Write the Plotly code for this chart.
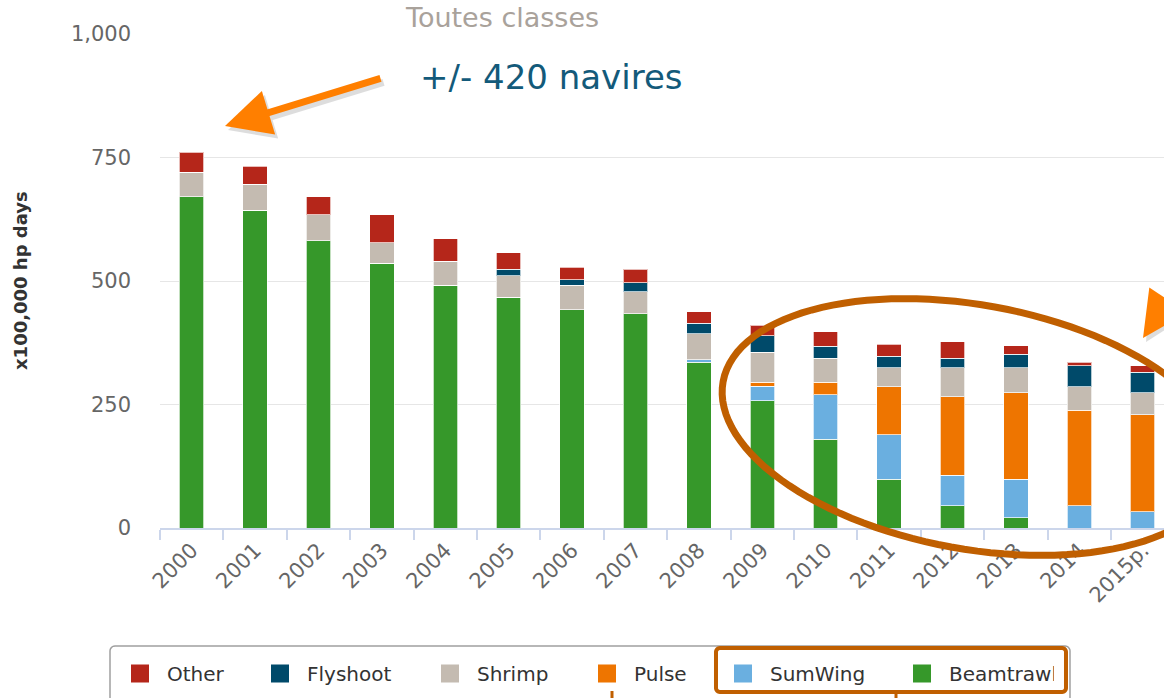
import math
import plotly.graph_objects as go

# ---- data (x100,000 hp days) ----
years = ["2000", "2001", "2002", "2003", "2004", "2005", "2006", "2007",
         "2008", "2009", "2010", "2011", "2012", "2013", "2014", "2015p."]
beamtrawl = [671, 643, 581, 536, 491, 467, 442, 434, 336, 258, 180, 99, 45, 21, 0, 0]
sumwing = [0, 0, 0, 0, 0, 0, 0, 0, 5, 29, 90, 90, 62, 78, 45, 33]
pulse = [0, 0, 0, 0, 0, 0, 0, 0, 0, 8, 25, 97, 159, 175, 193, 196]
shrimp = [49, 53, 53, 41, 49, 44, 49, 44, 52, 61, 49, 38, 58, 50, 48, 45]
flyshoot = [0, 0, 0, 0, 0, 13, 12, 18, 21, 33, 24, 24, 20, 28, 42, 41]
other = [41, 36, 37, 57, 46, 33, 25, 28, 24, 21, 29, 24, 33, 17, 8, 13]

series = [
    ("Beamtrawl", beamtrawl, "#36982a"),
    ("SumWing", sumwing, "#6aafe0"),
    ("Pulse", pulse, "#ee7500"),
    ("Shrimp", shrimp, "#c4bbb1"),
    ("Flyshoot", flyshoot, "#004a6a"),
    ("Other", other, "#b5261a"),
]
legend_widths = {"Other": 81, "Flyshoot": 111, "Shrimp": 98, "Pulse": 77,
                 "SumWing": 120, "Beamtrawl": 100}

W, H = 1164, 698
L, R, T, B = 160, 0, 34, 170
PW, PH = W - L - R, H - T - B


def P(px, py):
    """pixel -> paper coordinates"""
    return (px - L) / PW, (H - B - py) / PH


def rounded_rect(x0, y0, x1, y1, r):
    """rounded rectangle path (pixel input) in paper coordinates"""
    pts = []
    corners = [(x1 - r, y0 + r, -90), (x1 - r, y1 - r, 0), (x0 + r, y1 - r, 90), (x0 + r, y0 + r, 180)]
    for ccx, ccy, start in corners:
        for k in range(7):
            ang = math.radians(start + 15 * k)
            pts.append(P(ccx + r * math.cos(ang), ccy + r * math.sin(ang)))
    return "M " + " L ".join(f"{x:.5f},{y:.5f}" for x, y in pts) + " Z"


FONT = "DejaVu Sans"

fig = go.Figure()
for name, vals, col in series:
    fig.add_trace(go.Bar(
        x=years, y=vals, name=name, width=0.386, showlegend=False, legendgroup=name,
        marker=dict(color=col, line=dict(color="rgba(255,255,255,0.7)", width=1)),
    ))
# legend entries (larger square symbols)
for name, vals, col in series:
    fig.add_trace(go.Scatter(
        x=[None], y=[None], mode="markers", name=name, legendgroup=name,
        legendwidth=legend_widths[name],
        marker=dict(symbol="square", size=16, color=col, line=dict(color=col, width=2)),
    ))

# ellipse (annotation shape)
cx, cy, a, b, th = 973, 427, 254, 122, math.radians(10.3)
pts = []
for i in range(121):
    t = 2 * math.pi * i / 120
    px = cx + a * math.cos(t) * math.cos(th) - b * math.sin(t) * math.sin(th)
    py = cy + a * math.cos(t) * math.sin(th) + b * math.sin(t) * math.cos(th)
    pts.append(P(px, py))
path = "M " + " L ".join(f"{x:.5f},{y:.5f}" for x, y in pts) + " Z"

shapes = [
    dict(type="path", path=path, xref="paper", yref="paper",
         line=dict(color="#c05f00", width=7), layer="above"),
    # legend frame
    dict(type="path", path=rounded_rect(110, 646, 1070, 715, 5), xref="paper", yref="paper",
         line=dict(color="#a0a0a0", width=1.5)),
    # highlight box around SumWing / Beamtrawl
    dict(type="path", path=rounded_rect(716, 648, 1066, 692, 4), xref="paper", yref="paper",
         line=dict(color="#c05f00", width=4)),
]
for lx, ly0, ly1 in [(612, 691, 700), (896, 693, 700)]:
    a0 = P(lx, ly0)
    a1 = P(lx, ly1)
    shapes.append(dict(type="line", xref="paper", yref="paper", x0=a0[0], y0=a0[1],
                       x1=a1[0], y1=a1[1], line=dict(color="#c05f00", width=3)))

annotations = []
tx, ty = P(502, 17)
annotations.append(dict(text="Toutes classes", x=tx, y=ty, xref="paper", yref="paper",
                        showarrow=False, font=dict(family=FONT, size=27, color="#a9a29b"),
                        xanchor="center", yanchor="middle"))
tx, ty = P(551, 77)
annotations.append(dict(text="+/- 420 navires", x=tx, y=ty, xref="paper", yref="paper",
                        showarrow=False, font=dict(family=FONT, size=34, color="#135a7a"),
                        xanchor="center", yanchor="middle"))
tx, ty = P(20, 281)
annotations.append(dict(text="<b>x100,000 hp days</b>", x=tx, y=ty, xref="paper", yref="paper",
                        showarrow=False, textangle=-90,
                        font=dict(family=FONT, size=18, color="#333333"),
                        xanchor="center", yanchor="middle"))
# orange arrows (with faint shadow)
for (hx, hy, ax, ay) in [(225, 126, 157, -48), (1143, 338, 20, -30)]:
    sx, sy = P(hx + 3, hy + 4)
    annotations.append(dict(text="", x=sx, y=sy, xref="paper", yref="paper",
                            showarrow=True, ax=ax, ay=ay, arrowhead=2, arrowsize=1.3,
                            arrowwidth=7, arrowcolor="rgba(0,0,0,0.13)", standoff=0))
    hxp, hyp = P(hx, hy)
    annotations.append(dict(text="", x=hxp, y=hyp, xref="paper", yref="paper",
                            showarrow=True, ax=ax, ay=ay, arrowhead=2, arrowsize=1.3,
                            arrowwidth=7, arrowcolor="#ff7f00", standoff=0))

lx, ly = P(113, 654)
fig.update_layout(
    width=W, height=H, autosize=False,
    margin=dict(l=L, r=R, t=T, b=B, pad=0),
    barmode="stack",
    plot_bgcolor="white", paper_bgcolor="white",
    font=dict(family=FONT, color="#333333"),
    shapes=shapes, annotations=annotations,
    legend=dict(orientation="h", traceorder="reversed", x=lx, y=ly, itemwidth=44,
                xanchor="left", yanchor="top", borderwidth=0,
                bgcolor="rgba(0,0,0,0)", font=dict(family=FONT, size=20, color="#333333")),
    xaxis=dict(type="category", range=[-0.5, 15.336], showline=True, linecolor="#ccd6eb",
               linewidth=1.5, ticks="outside", tickson="boundaries", ticklen=10,
               tickcolor="#ccd6eb", tickwidth=1.5, tickangle=-45,
               tickfont=dict(family=FONT, size=21, color="#666666"), showgrid=False),
    yaxis=dict(range=[0, 1000], tickvals=[0, 250, 500, 750, 1000], tickformat=",",
               gridcolor="#e6e6e6", gridwidth=1, zeroline=False, showline=False,
               ticks="", ticklabelstandoff=28,
               tickfont=dict(family=FONT, size=21, color="#666666")),
    showlegend=True,
)

fig.write_html("out.html", config={"displayModeBar": False},
               post_script="document.body.style.margin='0';document.body.style.overflow='hidden';")
